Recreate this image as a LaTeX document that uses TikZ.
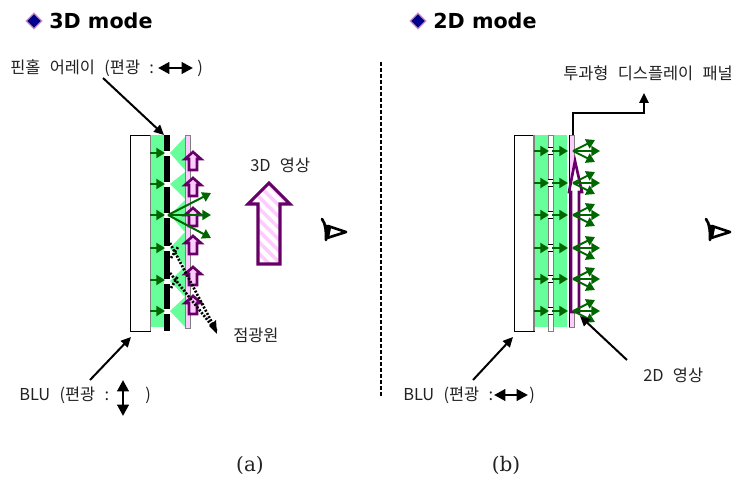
\documentclass[tikz,border=0pt]{standalone}
\usepackage{fontspec}
\setmainfont{Noto Sans CJK KR}
\newfontfamily\headfont{DejaVu Sans}
\newfontfamily\capfont{DejaVu Serif}
\usetikzlibrary{arrows.meta,patterns.meta,shapes.geometric}
\definecolor{lgreen}{HTML}{66FF99}
\definecolor{dgreen}{HTML}{006600}
\definecolor{dpurple}{HTML}{660066}
\definecolor{lpink}{HTML}{FFCCFF}
\definecolor{dtext}{HTML}{222222}
\newcommand{\Sp}{\hspace{7pt}}
\tikzset{
 labeltext/.style={font=\fontsize{12.3pt}{14pt}\selectfont,text=dtext,inner sep=0pt,anchor=west},
 headtext/.style={font=\headfont\bfseries\fontsize{15.5pt}{18pt}\selectfont,inner sep=0pt,anchor=west},
 captext/.style={font=\capfont\fontsize{15pt}{18pt}\selectfont,inner sep=0pt,text=dtext},
 layerbox/.style={draw=#1,line width=0.7pt},
 greenray/.style={draw=dgreen,line width=1.5pt,-{Triangle[length=6.5pt,width=7.5pt]}},
 pointer/.style={draw=black,line width=1.5pt,-{Triangle[length=7.5pt,width=7pt]}},
 polar/.style={draw=black,line width=2.2pt,{Triangle[length=8.5pt,width=8.5pt]}-{Triangle[length=8.5pt,width=8.5pt]}},
 purplearrow/.style={draw=dpurple,line width=2pt,line join=miter,fill=white},
 dotline/.style={draw=black,line width=2pt,dash pattern=on 1.5pt off 1.2pt},
 bullet/.style={diamond,draw=violet!45,line width=1pt,fill=blue!55!black,minimum size=12pt,inner sep=0pt},
}
\newcommand{\eyeicon}[1]{%
 \begin{scope}[xshift=#1*0.75pt]
  \draw[line width=2pt,line cap=round] (322,219) .. controls (326,224) and (326,232) .. (326,240);
  \draw[line width=2pt,line join=round,fill=white] (328,226)--(346,232)--(327,238)--cycle;
  \fill (324,223) -- (331,228) -- (329,238) -- (326,240) -- cycle;
 \end{scope}}
\begin{document}
\begin{tikzpicture}[x=0.75pt,y=-0.75pt]
\useasboundingbox (0,0) rectangle (734,481);
% ---------- headings
\node[bullet] (bl) at (34,21) {};
\node[headtext] (hl) at (49,21) {3D mode};
\node[bullet] (br) at (418,21) {};
\node[headtext] (hr) at (433,21) {2D mode};
% ---------- left layers
\fill[lgreen] (150,135) rectangle (164,327);
\foreach \a/\b/\c in {137/153/170,172/184/199,200/215/232,232/248/266,266/281/297,297/311/327}
  \fill[lgreen] (170,\b) -- (185,\a) -- (185,\c) -- cycle;
\draw[layerbox=black,fill=white] (130,135) rectangle (150,331);
\draw[gray,line width=1pt] (150.5,135) -- (150.5,331);
\fill[black] (164,135) rectangle (170,331);
\foreach \y in {153,184,215,248,281,311}
  \fill[white] (164,\y-2.5) rectangle (170,\y+2.5);
\draw[draw=gray,fill=lpink,line width=0.7pt] (185.5,135) rectangle (190.5,328);
\foreach \y in {153,184,215,248,280,311}{
  \coordinate (la\y) at (150,\y);
  \coordinate (lb\y) at (165,\y);
  \draw[greenray] (la\y) -- (lb\y);
}
% small purple arrows
\foreach \t in {152,178,208,236,267,296}
  \draw[purplearrow,fill=lpink] (193,\t) -- (201,\t+7) -- (197,\t+7) -- (197,\t+18) -- (189,\t+18) -- (189,\t+7) -- (185,\t+7) -- cycle;
% fan
\coordinate (fan) at (168,215);
\coordinate (fa) at (211,193);
\coordinate (fb) at (211,215);
\coordinate (fc) at (211,238);
\draw[greenray] (fan) -- (fa);
\draw[greenray] (fan) -- (fb);
\draw[greenray] (fan) -- (fc);
% dotted
\coordinate (pt) at (217,332);
\coordinate (d1) at (170,243);
\coordinate (d2) at (170,273);
\draw[dotline] (d1) -- (pt);
\draw[dotline] (d2) -- (pt);
\draw[dotline] (171,258) -- (178,247);
\draw[dotline] (171,288) -- (178,276);
\fill (217,334) -- (209,326) -- (216,320) -- cycle;
% big arrow
\path[fill=white,postaction={pattern={Lines[angle=-45,distance=6pt,line width=2.6pt]},pattern color=lpink}]
 (269,183) -- (290,204) -- (280,204) -- (280,264) -- (258,264) -- (258,204) -- (248,204) -- cycle;
\draw[draw=dpurple,line width=2.3pt,line join=miter]
 (269,183) -- (290,204) -- (280,204) -- (280,264) -- (258,264) -- (258,204) -- (248,204) -- cycle;
\eyeicon{0}
% divider
\coordinate (dv1) at (381,62);
\coordinate (dv2) at (381,396);
\draw[black,line width=1.1pt,dash pattern=on 3pt off 1.5pt] (dv1) -- (dv2);
% ---------- right layers
\fill[lgreen] (535,135) rectangle (548,327);
\fill[lgreen] (553,135) rectangle (567,327);
\draw[layerbox=black,fill=white] (514,135) rectangle (534,331);
\draw[gray,line width=1pt] (534,135) -- (534,331);
\draw[draw=gray,line width=0.7pt] (548,331) -- (548,135) -- (553,135) -- (553,331) -- cycle;
\draw[draw=gray,fill=lpink,line width=0.7pt] (569.5,135) rectangle (574.5,327);
\draw[draw=black,line width=0.5pt] (569.5,135) -- (569.5,327);
% big purple arrow, right
\draw[purplearrow,fill=white,line width=2pt] (575,161) -- (582,192) -- (579,192) -- (579,312) -- (571,312) -- (571,192) -- (569,192) -- cycle;
\foreach \y in {151,183,215,248,279,311}{
  \fill[white] (548.4,\y-4) rectangle (552.6,\y+3.5);
  \draw[black,line width=0.6pt] (548,\y-4) -- (553,\y-4) (548,\y+3.5) -- (553,\y+3.5);
  \coordinate (ra\y) at (534,\y);
  \coordinate (rb\y) at (549,\y);
  \coordinate (rc\y) at (552,\y);
  \coordinate (rd\y) at (568,\y);
  \draw[greenray] (ra\y) -- (rb\y);
  \draw[greenray] (rc\y) -- (rd\y);
  \coordinate (ro\y) at (573,\y);
  \coordinate (r1\y) at (595,\y-11);
  \coordinate (r2\y) at (600,\y);
  \coordinate (r3\y) at (595,\y+11);
  \draw[greenray] (ro\y) -- (r1\y);
  \draw[greenray] (ro\y) -- (r2\y);
  \draw[greenray] (ro\y) -- (r3\y);
}
\eyeicon{384}
% ---------- labels left
\node[labeltext] (pin) at (10,68) {핀홀\Sp 어레이\Sp (편광\Sp :};
\coordinate (pl1) at (158,68);
\coordinate (pl2) at (193,68);
\draw[polar] (pl1) -- (pl2);
\node[labeltext] (pinclose) at (197,68) {)};
\coordinate (pa1) at (103,78);
\coordinate (pa2) at (164,135);
\draw[pointer] (pa1) -- (pa2);
\node[labeltext] (tdv) at (250,165) {3D\Sp 영상};
\node[labeltext] (src) at (233,335) {점광원};
\node[labeltext] (blul) at (19,395) {BLU\Sp (편광\Sp :};
\coordinate (pv1) at (123,380);
\coordinate (pv2) at (123,416);
\draw[polar] (pv1) -- (pv2);
\node[labeltext] (bluclose) at (145,395) {)};
\coordinate (ba1) at (90,380);
\coordinate (ba2) at (131,337);
\draw[pointer] (ba1) -- (ba2);
% ---------- labels right
\node[labeltext] (panel) at (563,73) {투과형\Sp 디스플레이\Sp 패널};
\coordinate (el0) at (573,135);
\coordinate (el1) at (573,113);
\coordinate (el2) at (644,113);
\coordinate (el3) at (644,93);
\draw[pointer] (el0) -- (el1) -- (el2) -- (el3);
\node[labeltext] (tdv2) at (643,375) {2D\Sp 영상};
\coordinate (ia1) at (627,360);
\coordinate (ia2) at (580,316);
\draw[pointer] (ia1) -- (ia2);
\node[labeltext] (blur) at (403,395) {BLU\Sp (편광\Sp :};
\coordinate (pr1) at (494,395);
\coordinate (pr2) at (528,395);
\draw[polar] (pr1) -- (pr2);
\node[labeltext] (blurclose) at (529,395) {)};
\coordinate (bb1) at (473,380);
\coordinate (bb2) at (513,337);
\draw[pointer] (bb1) -- (bb2);
% captions
\node[captext] (capa) at (250,465) {(a)};
\node[captext] (capb) at (506,465) {(b)};
\end{tikzpicture}
\end{document}
